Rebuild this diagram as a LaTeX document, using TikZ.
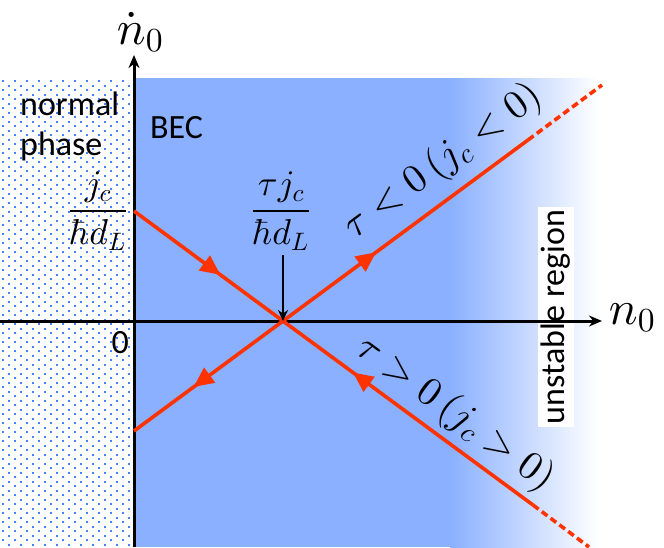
\documentclass[tikz,border=0pt]{standalone}
\usepackage{fontspec}
\setsansfont{Carlito}
\DeclareFontShape{OML}{cmm}{m}{it}{<->cmmi10}{}
\DeclareFontShape{OMS}{cmsy}{m}{n}{<->cmsy10}{}
\DeclareFontShape{OT1}{cmr}{m}{n}{<->cmr10}{}
\DeclareFontShape{OMX}{cmex}{m}{n}{<->cmex10}{}
\usetikzlibrary{arrows.meta,decorations.markings}
\definecolor{becblue}{RGB}{138,176,255}
\definecolor{dotblue}{RGB}{70,130,255}
\definecolor{flowred}{RGB}{255,51,0}
\tikzset{
  axisline/.style={line width=3pt,-{Stealth[length=13pt,width=11pt]}},
  flowline/.style={draw=flowred,line width=3.6pt},
  flowdash/.style={draw=flowred,line width=3.6pt,dash pattern=on 7pt off 4pt},
  midtip/.style={postaction={decorate},decoration={markings,mark=at position #1 with {\arrow{Triangle[length=20pt,width=18pt,color=flowred]}}}},
  sanslabel/.style={font=\sffamily\fontsize{34}{40}\selectfont,inner sep=0pt},
  bigmath/.style={font=\fontsize{48}{56}\selectfont,inner sep=0pt},
  fracmath/.style={font=\fontsize{36}{42}\selectfont,inner sep=0pt},
  slopemath/.style={font=\fontsize{40}{46}\selectfont,inner sep=0pt},
}
\begin{document}
\begin{tikzpicture}[x=1pt,y=-1pt]
\useasboundingbox (0,0) rectangle (664,547);
% regions
\fill[becblue] (134,78) rectangle (452,547);
\shade[left color=becblue,right color=white] (450,78) rectangle (598,547);
\foreach \r in {0,...,103}{
  \pgfmathsetmacro\yy{80+4.5*\r}
  \pgfmathsetmacro\xo{mod(\r,2)*6}
  \foreach \c in {0,...,10}{
    \fill[dotblue] ({2+\xo+12*\c},\yy) rectangle ++(2,2);
  }
}
% coordinates
\coordinate (yb) at (134,547);
\coordinate (yt) at (134,55);
\coordinate (xl) at (0,321);
\coordinate (xr) at (602,321);
\coordinate (C) at (283,321);
\coordinate (A1) at (134,211);
\coordinate (B1) at (533,505);
\coordinate (B2) at (589,547);
\coordinate (C1) at (134,431);
\coordinate (D1) at (528,140);
\coordinate (D2) at (602,85);
\coordinate (vt) at (283,255);
% unstable label
\node[sanslabel,fill=white,inner sep=3pt,rotate=90] (unst) at (556,317) {unstable region};
% axes
\draw[axisline] (yb) -- (yt);
\draw[axisline] (xl) -- (xr);
% flow lines
\draw[flowline,midtip=0.58] (A1) -- (C);
\draw[flowline,midtip=0.72] (B1) -- (C);
\draw[flowdash] (B1) -- (B2);
\draw[flowline,midtip=0.60] (C) -- (C1);
\draw[flowline,midtip=0.38] (C) -- (D1);
\draw[flowdash] (D1) -- (D2);
% vertical arrow
\draw[line width=2pt,-{Stealth[length=11pt,width=10pt]}] (vt) -- (C);
% labels
\node[bigmath] (ydot) at (140,32) {$\dot{n}_0$};
\node[bigmath] (xlab) at (632,318) {$n_0$};
\node[sanslabel,anchor=base west] (norm) at (20,115) {normal};
\node[sanslabel,anchor=base west] (phase) at (20,155) {phase};
\node[sanslabel,anchor=base west] (bec) at (150,138) {BEC};
\node[sanslabel,anchor=base east] (zero) at (129,353) {0};
\node[fracmath,anchor=base] (jfrac) at (98,220) {$\displaystyle\frac{j_c}{\hbar d_L}$};
\node[fracmath,anchor=base] (tfrac) at (281,220) {$\displaystyle\frac{\tau j_c}{\hbar d_L}$};
\node[slopemath,rotate=36.4] (tneg) at (443,162) {$\tau<0\,(j_c<0)$};
\node[slopemath,rotate=-36.4] (tpos) at (455,414) {$\tau>0\,(j_c>0)$};
\end{tikzpicture}
\end{document}
